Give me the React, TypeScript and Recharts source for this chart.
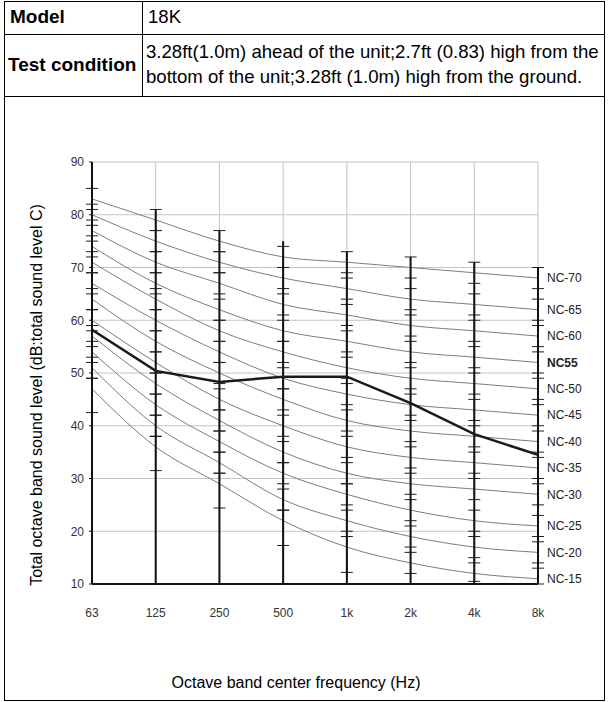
import React from 'react';
import { LineChart, Line, XAxis, YAxis, CartesianGrid, ErrorBar, ReferenceLine, LabelList } from 'recharts';

const freqLabels = ['63', '125', '250', '500', '1k', '2k', '4k', '8k'];
const yTicks = [10, 20, 30, 40, 50, 60, 70, 80, 90];

const nc15 = [47, 36, 29, 22, 17, 14, 12, 11];
const nc20 = [51, 40, 33, 26, 22, 19, 17, 16];
const nc25 = [54, 44, 37, 31, 27, 24, 22, 21];
const nc30 = [57, 48, 41, 35, 31, 29, 28, 27];
const nc35 = [60, 52, 45, 40, 36, 34, 33, 32];
const nc40 = [64, 56, 50, 45, 41, 39, 38, 37];
const nc45 = [67, 60, 54, 49, 46, 44, 43, 42];
const nc50 = [71, 64, 58, 54, 51, 49, 48, 47];
const nc55 = [74, 67, 62, 58, 56, 54, 53, 52];
const nc60 = [77, 71, 67, 63, 61, 59, 58, 57];
const nc65 = [80, 75, 71, 68, 66, 64, 63, 62];
const nc70 = [83, 79, 75, 72, 71, 70, 69, 68];

const measured = [58.2, 50.4, 48.3, 49.3, 49.3, 44.3, 38.4, 34.5];
const columnTops = [85, 81, 77, 75, 73, 72, 71, 70];

const nc15Low = [4.5, 4.5, 4.6, 4.7, 4.8, 2, 1.5, 1];
const ncErr = 2;

const ncCurves = [
  { key: 'nc15', name: 'NC-15', values: nc15 },
  { key: 'nc20', name: 'NC-20', values: nc20 },
  { key: 'nc25', name: 'NC-25', values: nc25 },
  { key: 'nc30', name: 'NC-30', values: nc30 },
  { key: 'nc35', name: 'NC-35', values: nc35 },
  { key: 'nc40', name: 'NC-40', values: nc40 },
  { key: 'nc45', name: 'NC-45', values: nc45 },
  { key: 'nc50', name: 'NC-50', values: nc50 },
  { key: 'nc55', name: 'NC55', values: nc55 },
  { key: 'nc60', name: 'NC-60', values: nc60 },
  { key: 'nc65', name: 'NC-65', values: nc65 },
  { key: 'nc70', name: 'NC-70', values: nc70 },
];

const rows = freqLabels.map((f, i) => {
  const r: any = { i, freq: f, measured: measured[i] };
  ncCurves.forEach((c) => {
    r[c.key] = c.values[i];
    r['e_' + c.key] = c.key === 'nc15' ? [nc15Low[i], ncErr] : [ncErr, ncErr];
  });
  return r;
});

const FONT = "'Liberation Sans', Arial, sans-serif";

const XTick = (props: any) => {
  const { x, y, payload } = props;
  const label = freqLabels[payload.value];
  return (
    <text x={x} y={y} dy="0.71em" textAnchor="middle" fontSize={12} fill="#333" fontFamily={FONT}>
      {label}
    </text>
  );
};

const hLine = (top: number, left: number, width: number) => (
  <div style={{ position: 'absolute', top, left, width, height: 1, background: '#000' }} />
);
const vLine = (left: number, top: number, height: number) => (
  <div style={{ position: 'absolute', top, left, width: 1, height, background: '#000' }} />
);

export default function App() {
  return (
    <div style={{ position: 'absolute', left: 0, top: 0, width: 610, height: 702, background: '#fff', fontFamily: FONT, color: '#000' }}>
      {hLine(1, 4, 601)}
      {hLine(34, 4, 601)}
      {hLine(96, 4, 601)}
      {hLine(700, 4, 601)}
      {vLine(4, 1, 700)}
      {vLine(604, 1, 700)}
      {vLine(142, 1, 96)}
      <div style={{ position: 'absolute', left: 10, top: 6, fontSize: 19, fontWeight: 'bold', lineHeight: '22px' }}>Model</div>
      <div style={{ position: 'absolute', left: 148, top: 6, fontSize: 18.6, lineHeight: '22px' }}>18K</div>
      <div style={{ position: 'absolute', left: 8, top: 54, fontSize: 19, fontWeight: 'bold', lineHeight: '22px' }}>Test condition</div>
      <div style={{ position: 'absolute', left: 146, top: 41, fontSize: 18.6, lineHeight: '22px', whiteSpace: 'nowrap' }}>
        3.28ft(1.0m) ahead of the unit;2.7ft (0.83) high from the
      </div>
      <div style={{ position: 'absolute', left: 146, top: 66, fontSize: 18.6, lineHeight: '22px', whiteSpace: 'nowrap' }}>
        bottom of the unit;3.28ft (1.0m) high from the ground.
      </div>

      <div style={{ position: 'absolute', left: 0, top: 0 }}>
        <LineChart width={610} height={702} data={rows} margin={{ top: 162, right: 72, left: 52, bottom: 88 }}>
          <CartesianGrid stroke="#c4c4c4" strokeWidth={1} />
          <XAxis
            type="number"
            dataKey="i"
            domain={[0, 7]}
            ticks={[0, 1, 2, 3, 4, 5, 6, 7]}
            allowDataOverflow
            height={30}
            tickLine={false}
            tickSize={0}
            tickMargin={24}
            axisLine={{ stroke: '#111', strokeWidth: 2 }}
            tick={<XTick />}
          />
          <YAxis
            type="number"
            domain={[10, 90]}
            ticks={yTicks}
            allowDataOverflow
            width={40}
            tickSize={3}
            tickMargin={5}
            axisLine={{ stroke: '#111', strokeWidth: 2 }}
            tickLine={{ stroke: '#111' }}
            tick={{ fontSize: 12, fill: '#333', fontFamily: FONT }}
          />
          {ncCurves.map((c) => (
            <Line
              key={c.key}
              dataKey={c.key}
              type="monotone"
              stroke="#7c7c7c"
              strokeWidth={1}
              dot={false}
              isAnimationActive={false}
            >
              <ErrorBar dataKey={'e_' + c.key} width={6} stroke="#222" strokeWidth={1} direction="y" />
              <LabelList
                dataKey={c.key}
                content={(p: any) =>
                  p.index === 7 ? (
                    <text
                      x={p.x + 9}
                      y={p.y}
                      dy="0.35em"
                      fontSize={12}
                      fontFamily={FONT}
                      fill="#222"
                      fontWeight={c.key === 'nc55' ? 'bold' : 'normal'}
                    >
                      {c.name}
                    </text>
                  ) : null
                }
              />
            </Line>
          ))}
          {columnTops.map((t, i) => (
            <ReferenceLine
              key={'col' + i}
              segment={[{ x: i, y: 10 }, { x: i, y: t }]}
              stroke="#111"
              strokeWidth={2}
              ifOverflow="visible"
            />
          ))}
          <Line
            dataKey="measured"
            type="linear"
            stroke="#1a1a1a"
            strokeWidth={2.5}
            dot={false}
            isAnimationActive={false}
          />
        </LineChart>
      </div>

      <div
        style={{
          position: 'absolute',
          left: 37,
          top: 395,
          transform: 'translate(-50%, -50%) rotate(-90deg)',
          fontSize: 16,
          whiteSpace: 'nowrap',
          lineHeight: '18px',
        }}
      >
        Total octave band sound level (dB:total sound level C)
      </div>
      <div
        style={{
          position: 'absolute',
          left: 296,
          top: 683,
          transform: 'translate(-50%, -50%)',
          fontSize: 16,
          whiteSpace: 'nowrap',
          lineHeight: '18px',
        }}
      >
        Octave band center frequency (Hz)
      </div>
    </div>
  );
}
